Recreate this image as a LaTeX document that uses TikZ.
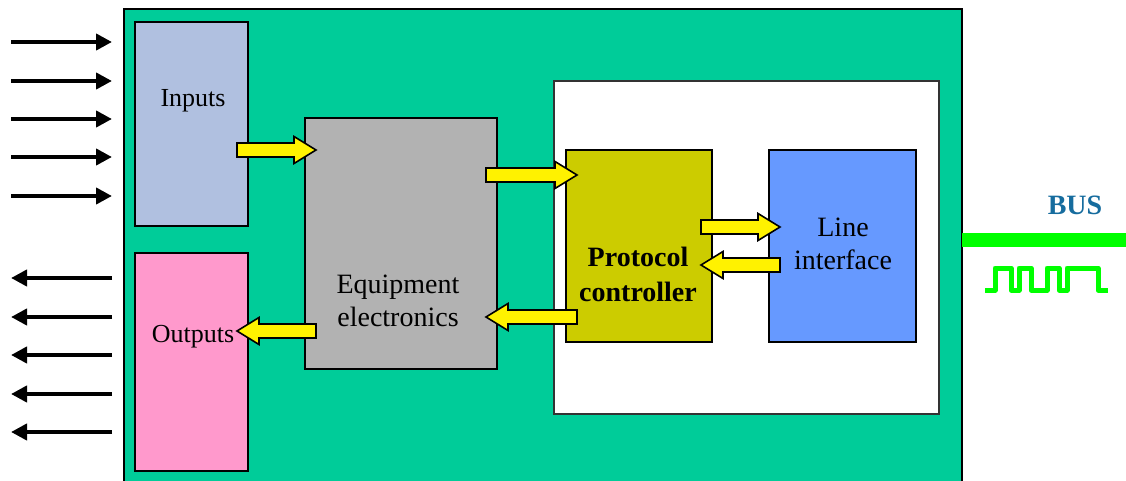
\documentclass[tikz,border=0pt]{standalone}
\usepackage{fontspec}
\setmainfont{Liberation Serif}
\usetikzlibrary{calc,arrows.meta}
\definecolor{boardgreen}{RGB}{0,204,153}
\definecolor{inblue}{RGB}{176,192,224}
\definecolor{outpink}{RGB}{255,153,204}
\definecolor{eqgray}{RGB}{178,178,178}
\definecolor{protolive}{RGB}{204,204,0}
\definecolor{lineblue}{RGB}{102,153,255}
\definecolor{busgreen}{RGB}{0,255,0}
\definecolor{bustext}{RGB}{22,108,158}
\tikzset{
  box/.style={draw=black, line width=1.5pt, anchor=north west, inner sep=0pt, outer sep=0pt},
  lbl/.style={inner sep=0pt, align=center, font=\fontsize{28}{33}\selectfont},
  smalllbl/.style={inner sep=0pt, font=\fontsize{26}{30}\selectfont},
  sigarrow/.style={line width=4pt, -{Triangle[length=16pt,width=16pt]}},
  yarrow/.style={draw=black, fill=yellow, line width=1.6pt, line join=miter},
}
% block arrow from anchor #1 to anchor #2 at row #3, direction #4 (1 right, -1 left)
\newcommand\yblock[4]{%
  \draw[yarrow] let \p1=(#1 |- 0,#3), \p2=(#2 |- 0,#3) in
    ({\x1-(#4)*11pt},{\y1+7pt}) --
    ({\x2-(#4)*11pt},{\y1+7pt}) --
    ({\x2-(#4)*11pt},{\y1+13.5pt}) --
    ({\x2+(#4)*11pt},{\y1}) --
    ({\x2-(#4)*11pt},{\y1-13.5pt}) --
    ({\x2-(#4)*11pt},{\y1-7pt}) --
    ({\x1-(#4)*11pt},{\y1-7pt}) -- cycle;}
\begin{document}
\begin{tikzpicture}[x=1pt,y=-1pt]
\useasboundingbox (0,0) rectangle (1126,481);
% board
\node[box, fill=boardgreen, minimum width=838pt, minimum height=480pt] (board) at (124,9) {};
% boxes
\node[box, fill=inblue, minimum width=113pt, minimum height=204pt] (inputs) at (135,22) {};
\node[box, fill=outpink, minimum width=113pt, minimum height=218pt] (outputs) at (135,253) {};
\node[box, fill=eqgray, minimum width=192pt, minimum height=251pt] (equip) at (305,118) {};
\node[box, draw=black!80, line width=1.2pt, fill=white, minimum width=385pt, minimum height=333pt] (stack) at (554,81) {};
\node[box, fill=protolive, minimum width=146pt, minimum height=192pt] (proto) at (566,150) {};
\node[box, fill=lineblue, minimum width=147pt, minimum height=192pt] (line) at (769,150) {};
% labels
\node[smalllbl, anchor=base] (inputstxt) at (193,107) {Inputs};
\node[smalllbl, anchor=base] (outputstxt) at (193,342) {Outputs};
\node[lbl] (equiptxt) at (398,301) {Equipment\\electronics};
\node[lbl, font=\fontsize{28}{35}\selectfont\bfseries] (prototxt) at (638,274) {Protocol\\controller};
\node[lbl] (linetxt) at (843,244) {Line\\interface};
\node[inner sep=0pt, anchor=base, text=bustext, font=\fontsize{28}{33}\selectfont\bfseries] (bustxt) at (1075,214) {BUS};
% signal arrows
\foreach \i/\y in {1/42,2/81,3/119,4/157,5/196}{
  \coordinate (ins\i) at (11,\y);
  \coordinate (ine\i) at (112,\y);
  \draw[sigarrow] (ins\i) -- (ine\i);
}
\foreach \i/\y in {1/278,2/317,3/355,4/394,5/432}{
  \coordinate (outs\i) at (112,\y);
  \coordinate (oute\i) at (11,\y);
  \draw[sigarrow] (outs\i) -- (oute\i);
}
% yellow block arrows
\yblock{inputs.east}{equip.west}{150}{1}
\yblock{equip.east}{proto.west}{175}{1}
\yblock{proto.west}{equip.east}{317}{-1}
\yblock{equip.west}{outputs.east}{331}{-1}
\yblock{proto.east}{line.west}{227}{1}
\yblock{line.west}{proto.east}{265}{-1}
% bus
\coordinate (busend) at (1126,240);
\draw[busgreen, line width=14pt] (board.east |- 0,240) -- (busend);
\draw[busgreen, line width=5pt, line join=round]
  (985,290) -- (995,290) -- (995,268) -- (1011,268) -- (1011,290) -- (1019,290)
  -- (1019,268) -- (1031,268) -- (1031,290) -- (1047,290) -- (1047,268)
  -- (1059,268) -- (1059,290) -- (1067,290) -- (1067,268) -- (1098,268)
  -- (1098,290) -- (1108,290);
\end{tikzpicture}
\end{document}
